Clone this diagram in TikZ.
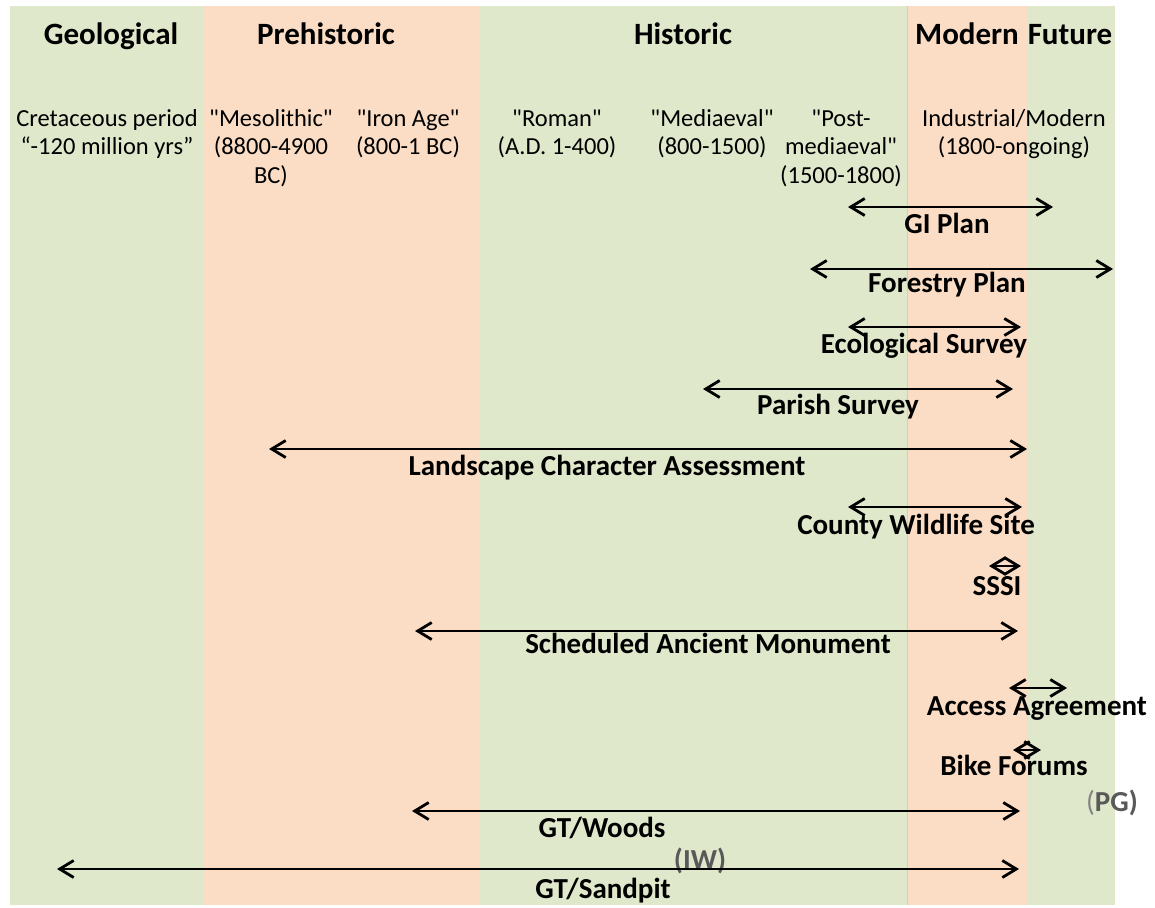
\documentclass[tikz,border=0pt]{standalone}
\usepackage{fontspec}
\setmainfont{Carlito}
\usetikzlibrary{arrows.meta}

\definecolor{bandgreen}{HTML}{DFE8CB}
\definecolor{bandorange}{HTML}{FBDDC5}
\definecolor{bandedge}{HTML}{EBC7A6}
\definecolor{notegray}{HTML}{595959}

\tikzset{
  era/.style={font=\fontsize{31}{37}\selectfont\bfseries, anchor=base, inner sep=0pt},
  period/.style={font=\fontsize{24.5}{28.5}\selectfont, anchor=base, inner sep=0pt},
  span/.style={<->, >={Straight Barb[length=14pt,width=17pt]}, line width=2.8pt},
  spanlabel/.style={font=\fontsize{29}{34}\selectfont\bfseries, anchor=base, inner sep=0pt},
  note/.style={spanlabel, text=notegray},
}

% centred multi-line block whose baseline is that of its first line
\newcommand{\stack}[1]{\begin{tabular}[t]{@{}c@{}}#1\end{tabular}}
% straight double quote
\newcommand{\dq}{\textquotedbl}

\begin{document}
\begin{tikzpicture}[x=1pt,y=-1pt]
\useasboundingbox (0,0) rectangle (1155,907);

% period bands
\fill[bandgreen]  (10,6)   rectangle (204,905);
\fill[bandorange] (204,6)  rectangle (480,905);
\fill[bandgreen]  (480,6)  rectangle (907,905);
\fill[bandorange] (907,6)  rectangle (1027,905);
\fill[bandgreen]  (1027,6) rectangle (1115,905);
\draw[bandedge, line width=0.8pt] (907,6) -- (907,905);

% era headings
\node[era] (geo)     at (111,45)  {Geological};
\node[era] (prehist) at (326,45)  {Prehistoric};
\node[era] (hist)    at (683,45)  {Historic};
\node[era] (modern)  at (967,45)  {Modern};
\node[era] (future)  at (1070,45) {Future};

% periods
\node[period] (cret)  at (107,126)  {\stack{Cretaceous period\\“-120 million yrs”}};
\node[period] (meso)  at (271,126)  {\stack{\dq Mesolithic\dq\\(8800-4900\\BC)}};
\node[period] (iron)  at (408,126)  {\stack{\dq Iron Age\dq\\(800-1 BC)}};
\node[period] (roman) at (557,126)  {\stack{\dq Roman\dq\\(A.D. 1-400)}};
\node[period] (medi)  at (712,126)  {\stack{\dq Mediaeval\dq\\(800-1500)}};
\node[period] (post)  at (841,126)  {\stack{\dq Post-\\mediaeval\dq\\(1500-1800)}};
\node[period] (indus) at (1014,126) {\stack{Industrial/Modern\\(1800-ongoing)}};

% span end points
\coordinate (gi-l) at (848,207);   \coordinate (gi-r) at (1053,207);
\coordinate (fp-l) at (810,269);   \coordinate (fp-r) at (1113,269);
\coordinate (es-l) at (848,327);   \coordinate (es-r) at (1021,327);
\coordinate (ps-l) at (703,389);   \coordinate (ps-r) at (1013,389);
\coordinate (lca-l) at (269,449);  \coordinate (lca-r) at (1027,449);
\coordinate (cws-l) at (848,507);  \coordinate (cws-r) at (1022,507);
\coordinate (sssi-l) at (989,566); \coordinate (sssi-r) at (1021,566);
\coordinate (sam-l) at (415,631);  \coordinate (sam-r) at (1018,631);
\coordinate (aa-l) at (1009,688);  \coordinate (aa-r) at (1067,688);
\coordinate (bf-l) at (1013,750);  \coordinate (bf-r) at (1041,750);
\coordinate (gtw-l) at (412,811);  \coordinate (gtw-r) at (1020,811);
\coordinate (gts-l) at (57,869);   \coordinate (gts-r) at (1019,869);

% span labels
\node[spanlabel] (gi)   at (947,233)  {GI Plan};
\node[spanlabel] (fp)   at (947,292)  {Forestry Plan};
\node[spanlabel] (es)   at (924,353)  {Ecological Survey};
\node[spanlabel] (ps)   at (838,414)  {Parish Survey};
\node[spanlabel] (lca)  at (607,475)  {Landscape Character Assessment};
\node[spanlabel] (cws)  at (916,534)  {County Wildlife Site};
\node[spanlabel] (sssi) at (997,595)  {SSSI};
\node[spanlabel] (sam)  at (708,653)  {Scheduled Ancient Monument};
\node[spanlabel] (aa)   at (1037,715) {Access Agreement};
\node[spanlabel] (bf)   at (1014,775) {Bike Forums};
\node[spanlabel] (gtw)  at (602,837)  {GT/Woods};
\node[spanlabel] (gts)  at (603,898)  {GT/Sandpit};
\node[note]      (pg)   at (1112,811) {{\mdseries\color{notegray!75}(}PG)};
\node[note]      (iw)   at (700,869)  {(IW)};

% spans
\draw[span] (gi-l) -- (gi-r);
\draw[span] (fp-l) -- (fp-r);
\draw[span] (es-l) -- (es-r);
\draw[span] (ps-l) -- (ps-r);
\draw[span] (lca-l) -- (lca-r);
\draw[span] (cws-l) -- (cws-r);
\draw[span] (sssi-l) -- (sssi-r);
\draw[span] (sam-l) -- (sam-r);
\draw[span] (aa-l) -- (aa-r);
\draw[span] (bf-l) -- (bf-r);
\draw[span] (gtw-l) -- (gtw-r);
\draw[span] (gts-l) -- (gts-r);
\end{tikzpicture}
\end{document}
